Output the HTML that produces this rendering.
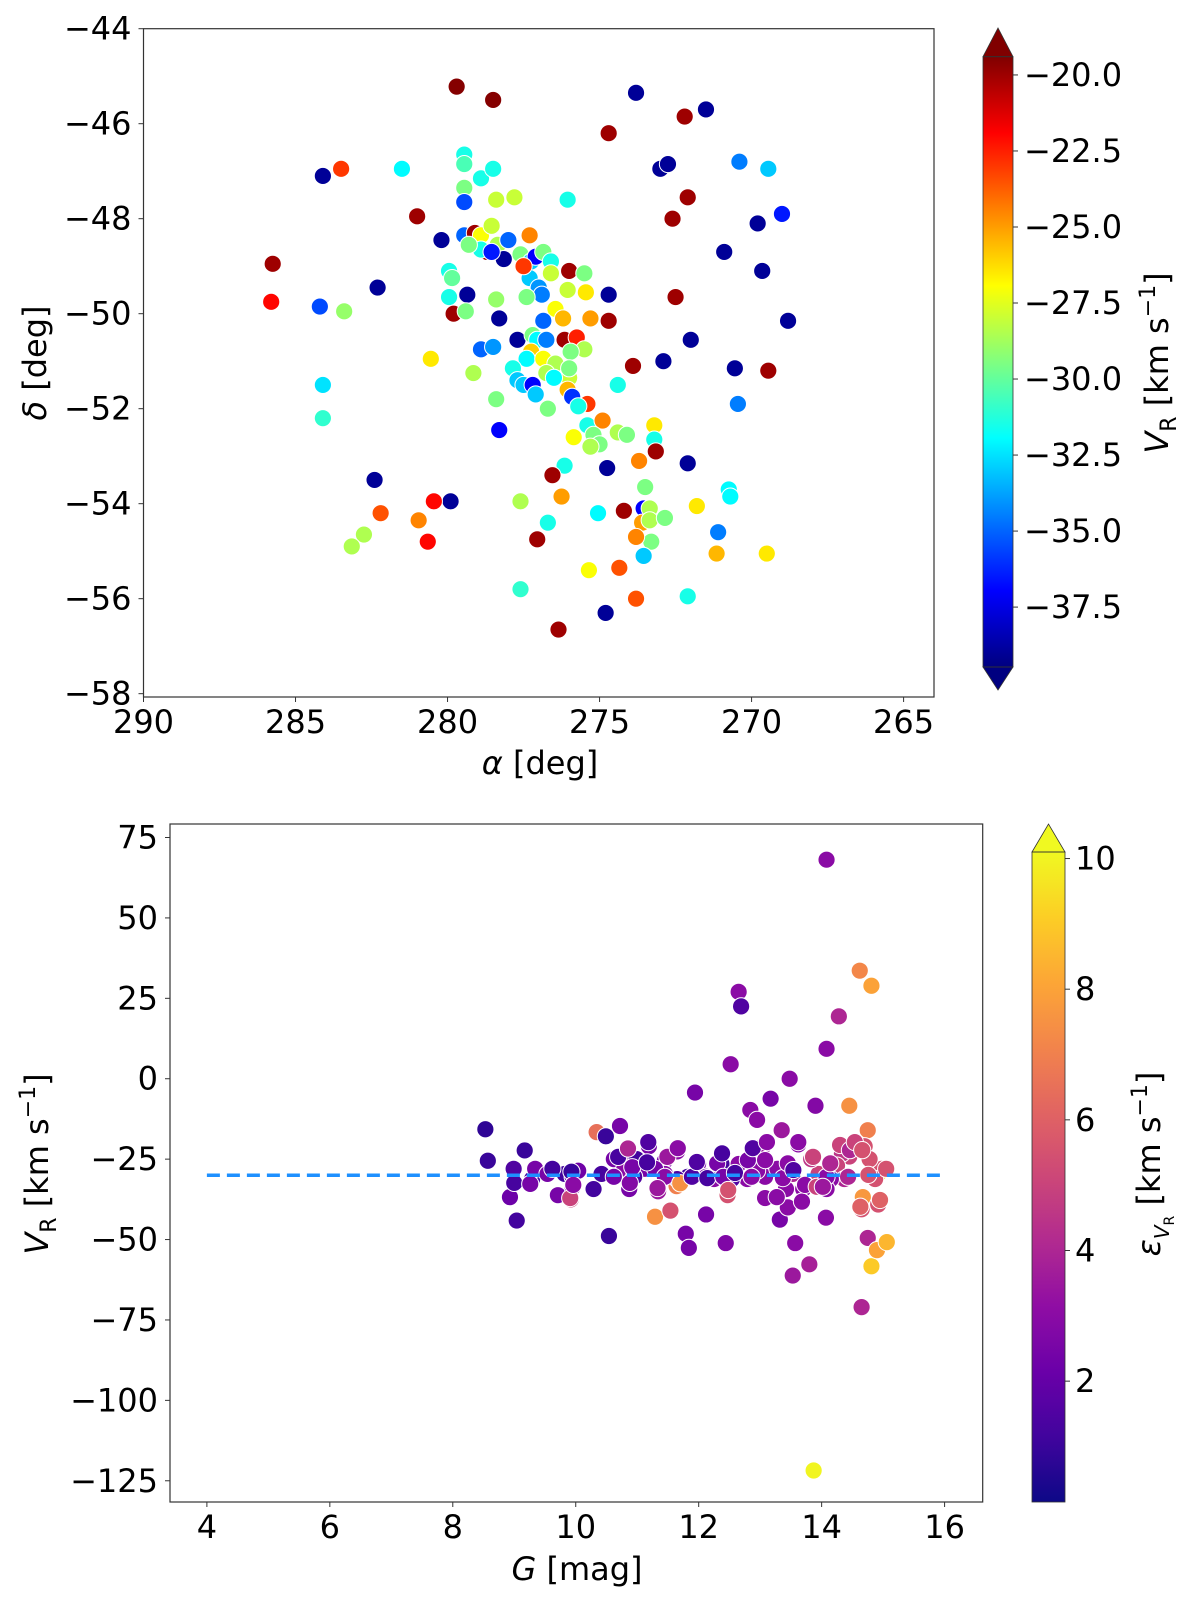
<!DOCTYPE html>
<html><head><meta charset="utf-8">
<style>
html,body{margin:0;padding:0;background:#fff;}
svg{display:block;font-family:"DejaVu Sans","Liberation Sans",sans-serif;}
</style></head>
<body>
<svg id="fig" width="1200" height="1604" viewBox="0 0 1200 1604" xmlns="http://www.w3.org/2000/svg">
<defs>
<linearGradient id="gradJet" x1="0" y1="1" x2="0" y2="0"></linearGradient>
<linearGradient id="gradPlasma" x1="0" y1="1" x2="0" y2="0"></linearGradient>
</defs>
<g id="topPanelG"></g>
<g id="botPanelG"></g>
</svg>
<script>
// ---------- Top panel data ----------
const topRA = [279.7,278.5,273.8,271.5,274.7,272.2,284.1,283.5,281.5,279.45,279.45,278.9,278.5,279.45,278.4,277.8,276.05,273.0,272.75,270.4,269.45,272.1,272.6,269.8,269.0,281.0,280.2,279.45,279.45,279.1,278.9,278.55,278.7,278.9,278.35,278.0,277.3,278.15,277.6,277.25,277.1,276.85,276.6,277.3,277.0,276.6,276.0,275.5,276.05,275.45,274.7,276.9,277.4,276.45,285.75,285.8,284.2,283.4,282.3,279.95,279.85,279.95,279.35,279.8,279.4,278.4,278.3,276.2,276.85,275.3,274.7,277.7,278.9,278.5,277.2,277.05,276.75,276.15,275.75,275.5,277.25,277.4,276.85,276.45,275.95,277.85,279.15,276.75,276.0,276.0,277.7,277.5,277.2,277.1,276.5,276.05,275.9,275.4,275.7,278.4,276.7,278.3,274.4,273.9,275.4,274.9,275.85,275.2,275.0,275.3,274.4,274.1,273.2,273.2,273.15,273.7,274.75,276.15,276.55,272.1,282.4,273.5,277.05,277.6,276.25,276.7,275.05,274.2,273.55,273.35,273.6,273.35,272.85,273.3,273.8,273.55,271.8,270.75,270.7,271.1,271.15,269.5,275.35,274.35,273.8,272.1,274.8,276.35,277.6,279.9,280.45,280.95,280.65,282.2,282.75,283.15,280.55,284.1,284.1,272.9,272.0,272.5,270.9,269.65,268.8,270.55,269.45,270.45,279.3,278.55,277.5];
const topDec = [-45.22,-45.5,-45.35,-45.7,-46.2,-45.85,-47.1,-46.95,-46.95,-46.65,-46.85,-47.15,-46.95,-47.35,-47.6,-47.55,-47.6,-46.95,-46.85,-46.8,-46.95,-47.55,-48.0,-48.1,-47.9,-47.95,-48.45,-48.35,-47.65,-48.3,-48.35,-48.15,-48.7,-48.65,-48.55,-48.45,-48.35,-48.85,-48.75,-48.9,-48.8,-48.7,-48.9,-49.25,-49.45,-49.15,-49.1,-49.15,-49.5,-49.55,-49.6,-49.6,-49.65,-49.9,-48.95,-49.75,-49.85,-49.95,-49.45,-49.1,-49.25,-49.65,-49.6,-50.0,-49.95,-49.7,-50.1,-50.1,-50.15,-50.1,-50.15,-50.55,-50.75,-50.7,-50.45,-50.55,-50.55,-50.55,-50.5,-50.75,-50.8,-50.95,-50.95,-51.05,-50.8,-51.15,-51.25,-51.25,-51.35,-51.15,-51.4,-51.5,-51.5,-51.7,-51.35,-51.6,-51.75,-51.9,-51.95,-51.8,-52.0,-52.45,-51.5,-51.1,-52.35,-52.25,-52.6,-52.55,-52.75,-52.8,-52.5,-52.55,-52.35,-52.65,-52.9,-53.1,-53.25,-53.2,-53.4,-53.15,-53.5,-53.65,-54.75,-53.95,-53.85,-54.4,-54.2,-54.15,-54.1,-54.1,-54.4,-54.35,-54.3,-54.8,-54.7,-55.1,-54.05,-53.7,-53.85,-54.6,-55.05,-55.05,-55.4,-55.35,-56.0,-55.95,-56.3,-56.65,-55.8,-53.95,-53.95,-54.35,-54.8,-54.2,-54.65,-54.9,-50.95,-51.5,-52.2,-51.0,-50.55,-49.65,-48.7,-49.1,-50.15,-51.15,-51.2,-51.9,-48.55,-48.7,-49.0];
const topVR = [-19.5,-19.5,-39,-39,-20,-20,-39,-23,-32,-31.5,-30.5,-31.5,-31.5,-29.5,-28,-28,-31.5,-39,-39,-34.5,-33,-20,-20,-39,-36.5,-20,-39,-35,-35.5,-20,-27,-28,-20,-31.5,-28.5,-35,-24.5,-39,-29.5,-33,-37,-29.5,-31.5,-33,-34,-28,-20,-29.5,-28,-26.5,-39,-34.5,-29.5,-27,-20,-22,-35.5,-29,-39,-31.5,-30,-31.5,-39,-20,-29.5,-29,-39,-25.5,-35,-25,-20,-39,-35,-34,-29.5,-32,-34.5,-20,-22.5,-28.5,-26,-32,-27,-28.5,-29.5,-31.5,-28.5,-28.5,-28,-29.5,-33,-33,-37,-33,-32,-25.5,-36,-23,-31.5,-29.5,-29.5,-37,-31.5,-20,-31.5,-24.5,-27,-29.5,-29.5,-28.5,-28.5,-29.5,-26.5,-31.5,-20,-24.5,-39,-31.5,-20,-39,-39,-29.5,-20,-28.5,-25,-31.5,-32,-20,-37,-28.5,-25,-28.5,-29.5,-29.5,-24.5,-33,-26.5,-32,-32,-34.5,-25.5,-26.5,-27,-23.5,-23.5,-31.5,-39,-20,-31,-39,-22,-24.5,-22,-23.5,-28.5,-28.5,-26.5,-32.5,-31,-39,-39,-20,-39,-39,-39,-39,-20,-34.5,-29.5,-36.5,-23];
const topXTicks = [290,285,280,275,270,265];
const topYTicks = [-44,-46,-48,-50,-52,-54,-56,-58];
const jetTicks = [-20,-22.5,-25,-27.5,-30,-32.5,-35,-37.5];

// ---------- Bottom panel data ----------
const botG = [8.53,8.57,9.17,8.99,8.93,9.0,9.04,9.29,9.34,9.54,9.71,9.92,9.82,9.95,9.95,10.04,10.34,10.49,10.54,10.42,10.62,10.72,10.79,10.87,10.84,10.99,11.12,11.19,11.29,11.34,11.45,11.54,11.64,11.65,11.82,11.79,11.84,11.94,11.99,12.12,12.25,12.37,12.44,12.47,12.52,12.65,12.69,12.84,12.95,13.17,13.05,13.08,13.32,13.35,13.45,13.48,13.53,13.57,13.62,13.8,13.9,13.87,14.08,14.08,14.07,14.28,14.45,14.62,14.81,14.75,14.65,14.67,14.75,14.81,14.9,15.06,14.92,14.65,14.95,14.98,14.45,14.54,14.33,14.25,14.37,14.15,14.08,13.95,13.83,13.7,13.53,13.42,13.28,12.95,12.79,12.65,12.54,12.12,11.65,11.45,11.29,10.95,10.62,9.62,9.26,14.87,15.05,14.7,14.78,10.29,
9.93,9.91,9.96,10.69,10.85,10.92,10.88,11.18,11.16,11.49,11.45,11.33,11.66,11.7,11.89,11.97,12.14,12.3,12.38,12.4,12.48,12.59,12.8,12.88,12.86,13.08,13.11,13.08,13.27,13.37,13.45,13.54,13.62,13.68,13.73,13.86,13.92,14.08,14.14,14.02,14.3,14.43,14.46,14.54,14.66,14.76,14.63,14.95];
const botVR = [-15.7,-25.5,-22.3,-28,-36.8,-32.4,-44.1,-31.2,-28,-29.6,-36.2,-37.5,-29.6,-30.5,-33.7,-28.6,-16.6,-17.9,-48.9,-29.6,-25,-14.7,-28,-34.3,-22.6,-25,-28,-21,-42.9,-35,-25.5,-41,-33.4,-22.6,-30.5,-48.2,-52.6,-4.3,-26.5,-42.2,-31.2,-26.5,-51.1,-36.2,4.5,27,22.5,-9.7,-12.8,-6.2,-21,-30.5,-43.8,-16,-40,0,-61.2,-51.1,-20.4,-57.7,-8.4,-121.8,68.1,9.3,-43.2,19.4,-8.4,33.6,28.9,-16,-71,-36.8,-49.5,-58.3,-53.3,-50.8,-39.1,-40.6,-29,-28,-24.2,-20.4,-23.3,-27,-31.2,-31.2,-34.3,-29.6,-25,-34.3,-29.6,-34.3,-28,-28.6,-31.2,-26.5,-31.2,-30.5,-31.2,-29.6,-28,-30.5,-30.5,-28,-32.7,-31.2,-28,-21,-25,-34.3,
-28.9,-37.1,-33,-24.3,-21.7,-27.5,-32.4,-19.7,-26,-24.3,-30.5,-34,-21.6,-32.5,-30.5,-25.9,-30.9,-26.3,-23.2,-30.5,-34.6,-29.3,-25.3,-21.6,-30.5,-25.3,-19.7,-37.1,-36.8,-30.9,-26.3,-28.4,-19.7,-38.2,-33,-24.3,-33.6,-30.5,-26.3,-33.6,-20.6,-30.5,-22.2,-19.7,-22.2,-29.9,-39.8,-37.7];
const botErr = [0.8,1.0,1.0,1.5,2.2,1.3,1.2,1.2,2.5,2.5,2.5,5,1.2,2.2,2.5,2.3,6.5,1.0,1.0,1.3,2.5,2.5,3,2.5,3.5,1.2,2.5,2.5,7.5,3.5,2.5,5.5,7,3,1.2,2.5,2.5,2.5,2.5,2.5,3,1.3,2.7,5.5,3,3,1.5,3,3,2.5,3.5,3,2.5,3.5,3,3,3.5,3,3,3.8,2.8,10,3,3,3,4,7.5,7.2,8,7,4,7.7,4,9,8,8.5,5.5,5.5,9.8,5.5,5,5,4.5,5,4,3,3,5,4.5,3,4,3,3,3,3,3,1.5,2.5,1.5,3,2.5,1.5,2.5,1.2,2.5,5.5,5.5,5.5,5.5,1.2,
1,5,3,1.3,4,2.5,2.8,1.5,1.3,3.5,3,3.5,3,7.5,1.5,1.5,1.3,2.5,1.3,2.5,5.5,1.3,2.5,1.5,3,3,3,3,3,3,3,1.5,3,3,3,5,5,3,4,3.5,5,4,4,5,5.5,5.5,6,6];
const meanVR = [-30];
const botXTicks = [4,6,8,10,12,14,16];
const botYTicks = [75,50,25,0,-25,-50,-75,-100,-125];
const plasmaTicks = [2,4,6,8,10];

const NS="http://www.w3.org/2000/svg";
function mk(tag, attrs, parent){const e=document.createElementNS(NS,tag);for(const k in attrs)e.setAttribute(k,attrs[k]);if(parent)parent.appendChild(e);return e;}
function clamp(v){return Math.max(0,Math.min(1,v));}
function jet(t){t=clamp(t);const r=clamp(1.5-Math.abs(4*t-3)),g=clamp(1.5-Math.abs(4*t-2)),b=clamp(1.5-Math.abs(4*t-1));return `rgb(${Math.round(r*255)},${Math.round(g*255)},${Math.round(b*255)})`;}
const plasmaStops=["#0d0887","#41049d","#6a00a8","#8f0da4","#b12a90","#cc4778","#e16462","#f2844b","#fca636","#fcce25","#f0f921"];
function hex(h){return [parseInt(h.slice(1,3),16),parseInt(h.slice(3,5),16),parseInt(h.slice(5,7),16)];}
function plasma(t){t=clamp(t);const s=t*10,i=Math.min(9,Math.floor(s)),f=s-i;const a=hex(plasmaStops[i]),b=hex(plasmaStops[i+1]);return `rgb(${a.map((v,k)=>Math.round(v+(b[k]-v)*f)).join(',')})`;}

const gJ=document.getElementById('gradJet'), gP=document.getElementById('gradPlasma');
for(let i=0;i<=40;i++){const t=i/40;mk('stop',{offset:t,'stop-color':jet(t)},gJ);mk('stop',{offset:t,'stop-color':plasma(t)},gP);}

// ===== TOP PANEL =====
const topPanel=document.getElementById('topPanelG');
const T={L:143.5,R:934,T:28.7,B:697,x0:290,x1:264,y0:-44,y1:-58.07};
const tx=v=>T.L+(v-T.x0)/(T.x1-T.x0)*(T.R-T.L);
const ty=v=>T.T+(v-T.y0)/(T.y1-T.y0)*(T.B-T.T);
const jMin=-39.47,jMax=-19.4;
const tPts=mk('g',{},topPanel);


topRA.forEach((a,i)=>{const c=mk('circle',{cx:tx(a),cy:ty(topDec[i]),r:8.6,fill:jet((topVR[i]-jMin)/(jMax-jMin)),stroke:'#fff','stroke-width':1},tPts);

});
const tf=mk('rect',{x:T.L,y:T.T,width:T.R-T.L,height:T.B-T.T,fill:'none',stroke:'#333','stroke-width':1.2},topPanel);


topXTicks.forEach(v=>{const x=tx(v);mk('line',{x1:x,x2:x,y1:T.B,y2:T.B+5,stroke:'#333'},topPanel);
const t=mk('text',{x:x,y:T.B+36,'font-size':32,'text-anchor':'middle'},topPanel);t.textContent=String(v);

});
topYTicks.forEach(v=>{const y=ty(v);mk('line',{x1:T.L-5,x2:T.L,y1:y,y2:y,stroke:'#333'},topPanel);
const t=mk('text',{x:T.L-12,y:y+11,'font-size':32,'text-anchor':'end'},topPanel);t.textContent='\u2212'+Math.abs(v);

});
let lab=mk('text',{x:540,y:774,'font-size':32,'text-anchor':'middle'},topPanel);
lab.innerHTML='<tspan font-style="italic">α</tspan> [deg]';


lab=mk('text',{x:0,y:0,'font-size':32,'text-anchor':'middle',transform:'translate(46,363) rotate(-90)'},topPanel);
lab.innerHTML='<tspan font-style="italic">δ</tspan> [deg]';


const cb1=mk('g',{},topPanel);


const C1={L:983,R:1013,T:56.7,B:667};
mk('rect',{x:C1.L,y:C1.T,width:C1.R-C1.L,height:C1.B-C1.T,fill:'url(#gradJet)'},cb1);
mk('polygon',{points:`${C1.L},${C1.T} ${(C1.L+C1.R)/2},28 ${C1.R},${C1.T}`,fill:jet(1),stroke:'#333','stroke-width':0.8},cb1);
mk('polygon',{points:`${C1.L},${C1.B} ${(C1.L+C1.R)/2},690 ${C1.R},${C1.B}`,fill:jet(0),stroke:'#333','stroke-width':0.8},cb1);
mk('rect',{x:C1.L,y:C1.T,width:C1.R-C1.L,height:C1.B-C1.T,fill:'none',stroke:'#333','stroke-width':0.8},cb1);
const cy1=v=>C1.B-(v-jMin)/(jMax-jMin)*(C1.B-C1.T);
jetTicks.forEach(v=>{const y=cy1(v);mk('line',{x1:C1.R,x2:C1.R+5,y1:y,y2:y,stroke:'#333'},cb1);
const t=mk('text',{x:C1.R+11,y:y+11,'font-size':32},cb1);t.textContent='\u2212'+Math.abs(v).toFixed(1);

});
lab=mk('text',{x:0,y:0,'font-size':32,'text-anchor':'middle',transform:'translate(1168,363) rotate(-90)'},cb1);
lab.innerHTML='<tspan font-style="italic">V</tspan><tspan font-size="22" dy="8">R</tspan><tspan dy="-8"> [km s</tspan><tspan font-size="22" dy="-13">−1</tspan><tspan dy="13">]</tspan>';



// ===== BOTTOM PANEL =====
const botPanel=document.getElementById('botPanelG');
const B={L:170,R:982.7,T:824,B:1502,x0:3.40,x1:16.62,y0:79.2,y1:-131.6};
const bx=v=>B.L+(v-B.x0)/(B.x1-B.x0)*(B.R-B.L);
const by=v=>B.T+(v-B.y0)/(B.y1-B.y0)*(B.B-B.T);
const pMin=0.15,pMax=10.1;
const bPts=mk('g',{},botPanel);


botG.forEach((g,i)=>{const c=mk('circle',{cx:bx(g),cy:by(botVR[i]),r:8.6,fill:plasma((botErr[i]-pMin)/(pMax-pMin)),stroke:'#fff','stroke-width':1},bPts);

});
const ml=mk('line',{x1:bx(4),x2:bx(16),y1:by(meanVR[0]),y2:by(meanVR[0]),stroke:'#1e90ff','stroke-width':3.5,'stroke-dasharray':'13 7'},botPanel);


const bf=mk('rect',{x:B.L,y:B.T,width:B.R-B.L,height:B.B-B.T,fill:'none',stroke:'#333','stroke-width':1.2},botPanel);


botXTicks.forEach(v=>{const x=bx(v);mk('line',{x1:x,x2:x,y1:B.B,y2:B.B+5,stroke:'#333'},botPanel);
const t=mk('text',{x:x,y:B.B+36,'font-size':32,'text-anchor':'middle'},botPanel);t.textContent=String(v);

});
botYTicks.forEach(v=>{const y=by(v);mk('line',{x1:B.L-5,x2:B.L,y1:y,y2:y,stroke:'#333'},botPanel);
const t=mk('text',{x:B.L-12,y:y+11,'font-size':32,'text-anchor':'end'},botPanel);t.textContent=(v<0?'\u2212':'')+Math.abs(v);

});
lab=mk('text',{x:577,y:1580,'font-size':32,'text-anchor':'middle'},botPanel);
lab.innerHTML='<tspan font-style="italic">G</tspan> [mag]';


lab=mk('text',{x:0,y:0,'font-size':32,'text-anchor':'middle',transform:'translate(48,1164) rotate(-90)'},botPanel);
lab.innerHTML='<tspan font-style="italic">V</tspan><tspan font-size="22" dy="8">R</tspan><tspan dy="-8"> [km s</tspan><tspan font-size="22" dy="-13">−1</tspan><tspan dy="13">]</tspan>';


const cb2=mk('g',{},botPanel);


const C2={L:1032,R:1065,T:852,B:1502};
mk('rect',{x:C2.L,y:C2.T,width:C2.R-C2.L,height:C2.B-C2.T,fill:'url(#gradPlasma)'},cb2);
mk('polygon',{points:`${C2.L},${C2.T} ${(C2.L+C2.R)/2},824 ${C2.R},${C2.T}`,fill:plasma(1),stroke:'#333','stroke-width':0.8},cb2);
mk('rect',{x:C2.L,y:C2.T,width:C2.R-C2.L,height:C2.B-C2.T,fill:'none',stroke:'#333','stroke-width':0.8},cb2);
const cy2=v=>C2.B-(v-pMin)/(pMax-pMin)*(C2.B-C2.T);
plasmaTicks.forEach(v=>{const y=cy2(v);mk('line',{x1:C2.R,x2:C2.R+5,y1:y,y2:y,stroke:'#333'},cb2);
const t=mk('text',{x:C2.R+10,y:y+11,'font-size':32},cb2);t.textContent=String(v);

});
lab=mk('text',{x:0,y:0,'font-size':32,'text-anchor':'middle',transform:'translate(1160,1164) rotate(-90)'},cb2);
lab.innerHTML='<tspan font-style="italic">ε</tspan><tspan font-size="20" dy="9" font-style="italic">V</tspan><tspan font-size="14" dy="5">R</tspan><tspan dy="-14"> [km s</tspan><tspan font-size="22" dy="-13">−1</tspan><tspan dy="13">]</tspan>';


</script>
</body></html>
